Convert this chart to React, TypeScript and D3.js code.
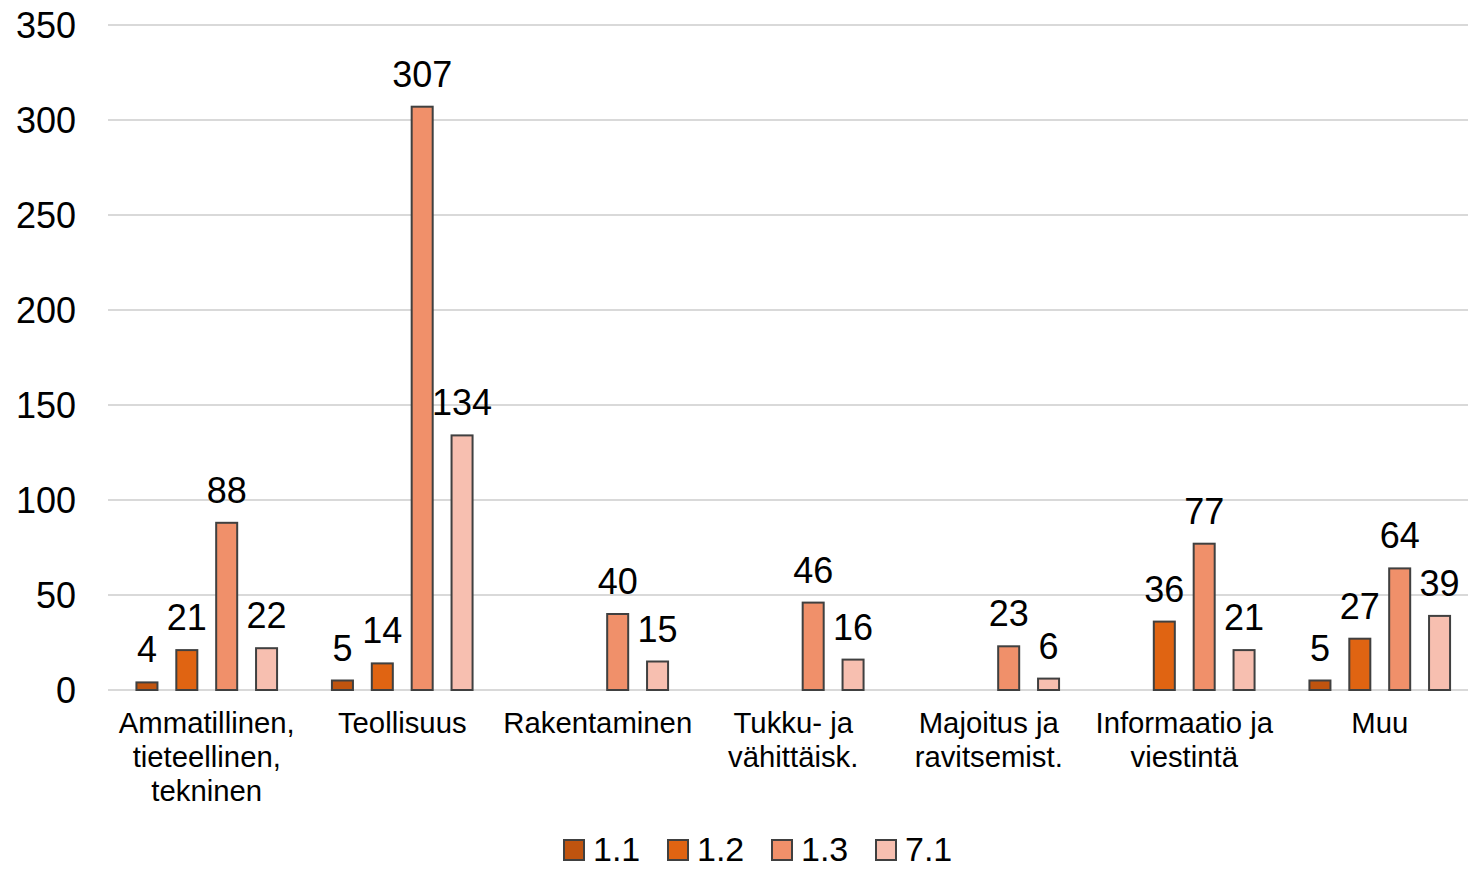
import React from "react";
import * as d3 from "d3";

const categories: string[][] = [
  ["Ammatillinen,", "tieteellinen,", "tekninen"],
  ["Teollisuus"],
  ["Rakentaminen"],
  ["Tukku- ja", "vähittäisk."],
  ["Majoitus ja", "ravitsemist."],
  ["Informaatio ja", "viestintä"],
  ["Muu"],
];
const series = ["1.1", "1.2", "1.3", "7.1"];
const colors = ["#C0540F", "#E06412", "#F0906A", "#F7BFB0"];
const s11: (number | null)[] = [4, 5, null, null, null, null, 5];
const s12: (number | null)[] = [21, 14, null, null, null, 36, 27];
const s13: (number | null)[] = [88, 307, 40, 46, 23, 77, 64];
const s71: (number | null)[] = [22, 134, 15, 16, 6, 21, 39];
const yTicks = [0, 50, 100, 150, 200, 250, 300, 350];

const W = 1468;
const H = 869;
const FONT = "'Liberation Sans', Arial, sans-serif";

export default function App() {
  const values = [s11, s12, s13, s71];
  const catKeys = categories.map((c) => c.join(" "));
  const y = d3.scaleLinear().domain([0, 350]).range([690, 25]);
  const x0 = d3.scaleBand<string>().domain(catKeys).range([109, 1477.5]).padding(0);
  const x1 = d3
    .scaleBand<string>()
    .domain(series)
    .range([0, x0.bandwidth()])
    .paddingInner(0.473)
    .paddingOuter(0.688);

  return (
    <svg
      width={W}
      height={H}
      style={{ position: "absolute", left: 0, top: 0, background: "#fff" }}
      fontFamily={FONT}
    >
      {yTicks.map((t) => (
        <g key={t}>
          <line x1={108} x2={1468} y1={y(t)} y2={y(t)} stroke="#d9d9d9" strokeWidth={2} />
          <text x={76} y={y(t)} dy="0.35em" textAnchor="end" fontSize={36} fill="#000">
            {t}
          </text>
        </g>
      ))}
      {catKeys.map((ck, ci) => (
        <g key={ck} transform={`translate(${x0(ck)},0)`}>
          {series.map((s, si) => {
            const v = values[si][ci];
            if (v == null) return null;
            const bx = x1(s)!;
            const bw = x1.bandwidth();
            return (
              <g key={s}>
                <rect
                  x={bx}
                  y={y(v)}
                  width={bw}
                  height={y(0) - y(v)}
                  fill={colors[si]}
                  stroke="#404040"
                  strokeWidth={2}
                />
                <text x={bx + bw / 2} y={y(v) - 20} textAnchor="middle" fontSize={36} fill="#000">
                  {v}
                </text>
              </g>
            );
          })}
          {categories[ci].map((line, li) => (
            <text
              key={li}
              x={x0.bandwidth() / 2}
              y={733 + li * 34}
              textAnchor="middle"
              fontSize={29.3}
              fill="#000"
            >
              {line}
            </text>
          ))}
        </g>
      ))}
      {series.map((s, si) => (
        <g key={s} transform={`translate(${564 + si * 104},840)`}>
          <rect x={0} y={0} width={20} height={20} fill={colors[si]} stroke="#404040" strokeWidth={2} />
          <text x={29} y={21} fontSize={34} fill="#000">
            {s}
          </text>
        </g>
      ))}
    </svg>
  );
}
